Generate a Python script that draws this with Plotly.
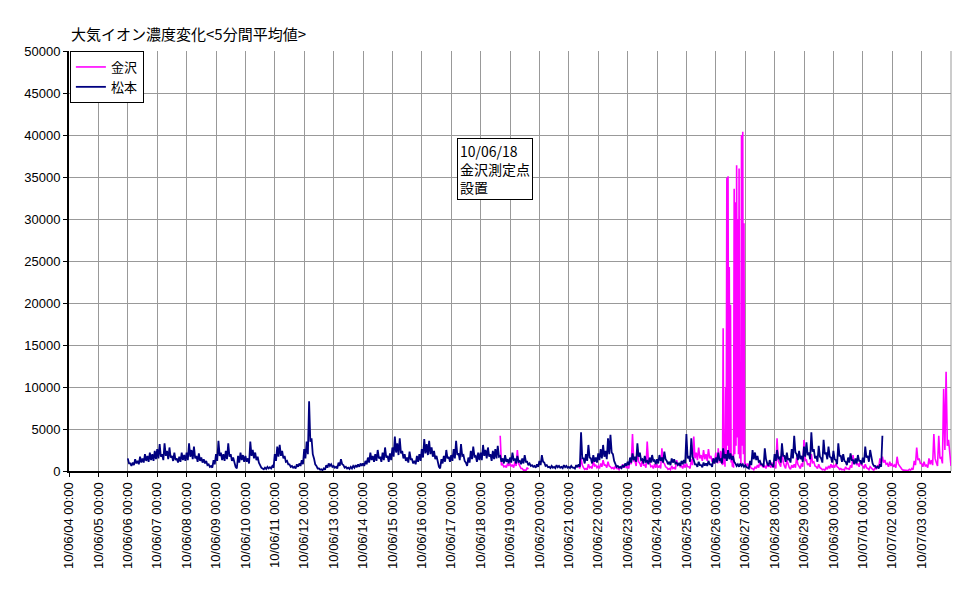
import pandas as pd
import plotly.graph_objects as go

# ---- data ----
# Each 2-hour slot has an upper value (peak) and a lower value (trough of the band)
matsumoto_high = [
    1500, 900, 1000, 1400, 1200, 1700, 1500, 2000, 1800, 2200, 2000, 2400,   # 06/06
    2600, 3200, 2000, 3300, 2400, 2800, 1800, 2200, 1500, 1700, 2200, 1900,  # 06/07
    2200, 3300, 2500, 2900, 1800, 2100, 1600, 1400, 1200, 800, 600, 1300,    # 06/08
    2000, 3600, 2200, 2000, 2400, 3300, 2000, 1600, 500, 1800, 2200, 1900,   # 06/09
    1800, 1500, 3500, 2500, 2200, 1700, 600, 300, 400, 500, 450, 600,        # 06/10
    2000, 2900, 3100, 2400, 1800, 1200, 800, 600, 500, 800, 900, 1300,       # 06/11
    2600, 3500, 8300, 3900, 1500, 600, 300, 200, 300, 700, 900, 800,         # 06/12
    600, 500, 1000, 1400, 700, 500, 400, 500, 600, 700, 800, 900,            # 06/13
    900, 1200, 1600, 2200, 1800, 2000, 2500, 1700, 2200, 2800, 1800, 2100,   # 06/14
    2800, 4100, 3300, 3900, 2400, 2000, 1600, 2300, 1400, 1200, 1800, 2000,  # 06/15
    2600, 3800, 3200, 3600, 2800, 2400, 1800, 500, 1400, 1800, 2500, 1700,   # 06/16
    1900, 2600, 3600, 2100, 3200, 1900, 1000, 1600, 2400, 2900, 1800, 2200,  # 06/17
    2200, 3100, 2500, 2800, 2000, 2400, 2600, 3000, 1800, 1500, 1900, 1400,  # 06/18
    1600, 2200, 1400, 1800, 1200, 1500, 1900, 1100, 900, 700, 600, 800,      # 06/19
    1200, 1900, 1000, 700, 500, 600, 500, 700, 600, 500, 700, 600,           # 06/20
    500, 600, 400, 700, 800, 4600, 1500, 2000, 3100, 1500, 1900, 1600,       # 06/21
    2100, 2600, 3100, 2400, 3900, 4300, 2000, 800, 600, 500, 700, 900,       # 06/22
    1100, 1600, 2100, 1700, 3300, 2200, 1400, 1800, 1200, 1600, 1900, 1300,  # 06/23
    1400, 1900, 1600, 2300, 1200, 1100, 1500, 1400, 1000, 900, 1200, 1300,   # 06/24
    4400, 1800, 3900, 1300, 800, 1100, 700, 1000, 900, 1200, 800, 1500,      # 06/25
    1600, 2200, 1400, 2700, 2000, 2500, 2100, 1800, 900, 800, 900, 800,      # 06/26
    700, 400, 1200, 2500, 2200, 1800, 1200, 800, 2700, 900, 1300, 700,       # 06/27
    2000, 2500, 1600, 3300, 1800, 2200, 1500, 2600, 4200, 2000, 2400, 1800,  # 06/28
    2900, 3400, 2200, 4600, 2600, 1800, 3000, 1500, 3700, 2200, 2900, 1600,  # 06/29
    2400, 1300, 3300, 1800, 2000, 1100, 1600, 2100, 1300, 1500, 1900, 1200,  # 06/30
    1600, 2900, 1800, 2500, 900, 600, 500, 800, 4200,                        # 07/01
]
matsumoto_low = [
    900, 600, 700, 900, 800, 1000, 1000, 1200, 1100, 1300, 1200, 1400,       # 06/06
    1500, 1700, 1300, 1800, 1400, 1600, 1200, 1300, 1000, 1100, 1300, 1200,  # 06/07
    1300, 1700, 1400, 1500, 1100, 1200, 1000, 900, 700, 500, 400, 800,       # 06/08
    1200, 1800, 1300, 1200, 1400, 1700, 1200, 900, 300, 1000, 1300, 1100,    # 06/09
    1100, 900, 1800, 1500, 1300, 1000, 400, 200, 250, 300, 300, 400,         # 06/10
    1200, 1700, 1800, 1500, 1100, 800, 500, 400, 300, 500, 600, 800,         # 06/11
    1500, 2000, 3500, 2000, 800, 300, 150, 100, 150, 400, 600, 500,          # 06/12
    400, 300, 600, 800, 400, 300, 250, 300, 400, 450, 500, 600,              # 06/13
    600, 800, 1000, 1300, 1100, 1200, 1500, 1100, 1300, 1600, 1100, 1300,    # 06/14
    1700, 2200, 1900, 2100, 1500, 1200, 1000, 1400, 900, 800, 1100, 1200,    # 06/15
    1600, 2100, 1900, 2000, 1700, 1400, 1000, 300, 900, 1100, 1500, 1100,    # 06/16
    1200, 1500, 1900, 1300, 1800, 1200, 600, 1000, 1400, 1700, 1100, 1300,   # 06/17
    1300, 1800, 1500, 1700, 1200, 1400, 1500, 1700, 1100, 900, 1100, 900,    # 06/18
    1000, 1300, 900, 1100, 800, 900, 1100, 700, 600, 500, 400, 500,          # 06/19
    700, 1100, 600, 450, 350, 400, 350, 450, 400, 350, 450, 400,             # 06/20
    350, 400, 300, 450, 500, 1500, 900, 1200, 1600, 900, 1100, 1000,         # 06/21
    1300, 1500, 1700, 1400, 2000, 2200, 1200, 500, 400, 350, 450, 600,       # 06/22
    700, 1000, 1300, 1100, 1700, 1300, 900, 1100, 800, 1000, 1200, 800,      # 06/23
    900, 1200, 1000, 1400, 800, 700, 1000, 900, 700, 600, 800, 900,          # 06/24
    1500, 1100, 1700, 800, 500, 700, 450, 650, 600, 800, 500, 900,           # 06/25
    1000, 1300, 900, 1500, 1200, 1400, 1300, 1100, 600, 500, 600, 500,       # 06/26
    450, 300, 700, 1400, 1300, 1100, 800, 500, 1400, 600, 800, 450,          # 06/27
    1200, 1500, 1000, 1800, 1100, 1300, 1000, 1500, 2200, 1300, 1400, 1100,  # 06/28
    1700, 1900, 1400, 2300, 1500, 1100, 1700, 1000, 2000, 1400, 1700, 1000,  # 06/29
    1400, 800, 1800, 1100, 1200, 700, 1000, 1300, 800, 900, 1200, 800,       # 06/30
    1000, 1600, 1100, 1400, 600, 400, 300, 500,                              # 07/01
]
matsumoto_start = "2010-06-06 00:00"

N = None
kanazawa_a_high = [
    N, N, N, N, N, N, N, N, 4200, 800, 600, 900,                             # 06/18
    900, 700, 1100, 2500, 600, 300, 100, 400, N, N, N, N,                    # 06/19
    N, N, N, N, N, N, N, N, N, N, N, N,                                      # 06/20
    N, N, N, N, 600, 1500, 400, 300, 800, 500, 1200, 700,                    # 06/21
    600, 900, 1300, 700, 1100, 500, 400, 600, 300, 500, 800, 700,            # 06/22
    500, 1500, 4400, 1200, 2500, 900, 1400, 700, 3500, 1000, 600, 800,       # 06/23
    800, 600, 2700, 900, 400, 300, 600, 400, 1300, 900, 600, 800,            # 06/24
    900, 500, 1400, 4100, 2200, 2800, 1900, 2500, 2000, 2600, 1800, 1500,    # 06/25
]
kanazawa_a_low = [
    N, N, N, N, N, N, N, N, 700, 500, 400, 600,                              # 06/18
    600, 400, 600, 900, 300, 100, 50, 200, N, N, N, N,                       # 06/19
    N, N, N, N, N, N, N, N, N, N, N, N,                                      # 06/20
    N, N, N, N, 300, 700, 200, 150, 400, 300, 600, 400,                      # 06/21
    300, 500, 700, 400, 600, 300, 200, 300, 150, 300, 400, 400,              # 06/22
    300, 800, 1200, 600, 1100, 500, 700, 400, 1200, 500, 300, 400,           # 06/23
    400, 300, 1000, 500, 200, 150, 300, 200, 700, 500, 300, 400,             # 06/24
    500, 300, 700, 1500, 1300, 1500, 1200, 1400, 1200, 1500, 1100, 900,      # 06/25
]
kanazawa_a_start = "2010-06-18 00:00"

kanazawa_0626_high = [
    2200, 1500, 2700, 1800, 2400, 1300, 17000, 3000, 10000, 34900, 35100, 24300,
    19800, 2000, 1000, 33600, 32000, 36400, 30000, 36000, 8000, 40000, 40400, 29500,
]
kanazawa_0626_low = [
    1200, 900, 1500, 1000, 1300, 700, 800, 500, 1500, 3000, 2000, 1500,
    1000, 500, 400, 2000, 3000, 4000, 2000, 1500, 600, 3000, 2000, 800,
]
kanazawa_0626_start = "2010-06-26 00:00"

kanazawa_b_high = [
    1000, 900, 600, 300, 500, 700, 1100, 800, 600, 900, 700, 1000,           # 06/27
    600, 3900, 900, 2500, 600, 1300, 400, 700, 800, 1600, 500, 900,          # 06/28
    3700, 1300, 900, 2000, 1100, 500, 800, 300, 200, 400, 600, 800,          # 06/29
    700, 900, 400, 300, 200, 500, 300, 700, 1900, 1200, 900, 1300,           # 06/30
    600, 800, 300, 500, 200, 400, 700, 1500, 1700, 1300, 900, 1100,          # 07/01
    900, 700, 1700, 600, 200, 100, 100, 200, 300, 1200, 2800, 1500,          # 07/02
    900, 1100, 700, 1500, 1300, 4400, 1000, 4200, 1600, 9800, 11800, 3700,   # 07/03
    600,                                                                     # 07/04 00:00
]
kanazawa_b_low = [
    500, 500, 300, 150, 300, 400, 600, 400, 300, 500, 400, 500,              # 06/27
    300, 1200, 500, 1100, 300, 700, 200, 400, 400, 800, 300, 500,            # 06/28
    1200, 700, 500, 1000, 600, 300, 400, 150, 100, 200, 300, 400,            # 06/29
    400, 500, 200, 150, 100, 250, 150, 400, 900, 700, 500, 700,              # 06/30
    300, 400, 150, 300, 100, 200, 400, 900, 1000, 800, 500, 600,             # 07/01
    500, 400, 800, 300, 100, 50, 50, 100, 150, 700, 1300, 900,               # 07/02
    500, 600, 400, 800, 700, 1500, 600, 1500, 900, 2500, 3000, 1500,         # 07/03
]
kanazawa_b_start = "2010-06-27 00:00"

series_names = ["金沢", "松本"]
series_colors = ["#FF00FF", "#000080"]
title_text = "大気イオン濃度変化<5分間平均値>"
note_text = "10/06/18<br>金沢測定点<br>設置"
x_range = ["2010-06-04 00:00", "2010-07-04 00:00"]


def interleave(start, step_hours, highs, lows):
    """Peak at the start of each slot, trough half a slot later."""
    t0 = pd.Timestamp(start)
    xs, ys = [], []
    for i, hi in enumerate(highs):
        ts = t0 + pd.Timedelta(hours=step_hours * i)
        xs.append(ts)
        ys.append(hi)
        if i < len(lows):
            xs.append(ts + pd.Timedelta(hours=step_hours / 2))
            ys.append(lows[i])
    return xs, ys


xm, ym = interleave(matsumoto_start, 2, matsumoto_high, matsumoto_low)
xa, ya = interleave(kanazawa_a_start, 2, kanazawa_a_high, kanazawa_a_low)
x1, y1 = interleave(kanazawa_0626_start, 1, kanazawa_0626_high, kanazawa_0626_low)
xb, yb = interleave(kanazawa_b_start, 2, kanazawa_b_high, kanazawa_b_low)
xk, yk = xa + x1 + xb, ya + y1 + yb

FONT = "Liberation Sans, Arial, Noto Sans CJK JP"
tick_days = pd.date_range(x_range[0], periods=30, freq="D")

fig = go.Figure()
fig.add_trace(go.Scatter(x=xk, y=yk, mode="lines", name=series_names[0],
                         line=dict(color=series_colors[0], width=1.6),
                         connectgaps=False))
fig.add_trace(go.Scatter(x=xm, y=ym, mode="lines", name=series_names[1],
                         line=dict(color=series_colors[1], width=1.8)))

fig.update_layout(
    width=971, height=604,
    margin=dict(l=69, r=20, t=51, b=133),
    paper_bgcolor="white", plot_bgcolor="white",
    font=dict(family=FONT, size=13, color="black"),
    title=dict(text=title_text, x=71 / 971, xanchor="left", y=1 - 35 / 604,
               yanchor="middle", font=dict(family="Noto Sans CJK JP", size=15, color="black")),
    showlegend=True,
    legend=dict(x=0.001, y=1, xanchor="left", yanchor="top",
                bgcolor="white", bordercolor="black", borderwidth=1,
                font=dict(family="Noto Sans CJK JP", size=13, color="black"),
                itemwidth=30, tracegroupgap=0),
    annotations=[dict(text=note_text, xref="paper", yref="paper",
                      x=(457 - 69) / 882, y=(471 - 138) / 420,
                      xanchor="left", yanchor="top", align="left", showarrow=False,
                      bgcolor="white", bordercolor="black", borderwidth=1, borderpad=2,
                      font=dict(family="Noto Sans CJK JP", size=14, color="black"))],
    shapes=[dict(type="line", xref="paper", yref="paper", x0=1, x1=1, y0=0, y1=1,
                 line=dict(color="#999999", width=1), layer="below")],
)
fig.update_xaxes(
    type="date", range=x_range, tickvals=list(tick_days),
    tickformat="%y/%m/%d %H:%M", tickangle=-90,
    showgrid=True, gridcolor="#999999", gridwidth=1,
    showline=True, linecolor="black", linewidth=2,
    ticks="outside", ticklen=4, tickcolor="black",
    tickfont=dict(family=FONT, size=13), zeroline=False,
)
fig.update_yaxes(
    range=[0, 50000], dtick=5000, tickformat="d",
    showgrid=True, gridcolor="#999999", gridwidth=1,
    showline=True, linecolor="black", linewidth=2,
    ticks="outside", ticklen=4, tickcolor="black",
    tickfont=dict(family=FONT, size=13), zeroline=False,
)

fig.write_html("out.html")
